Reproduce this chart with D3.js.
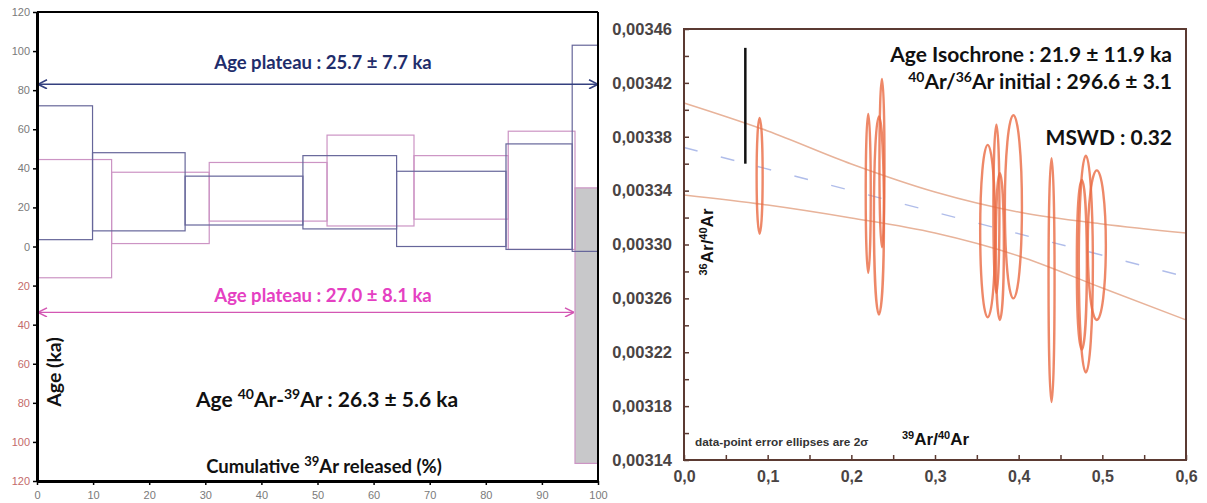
<!DOCTYPE html>
<html>
<head>
<meta charset="utf-8">
<script src="https://cdn.jsdelivr.net/npm/d3@7"></script>
<style>
  html, body { margin: 0; padding: 0; background: #fff; }
  svg { display: block; }
</style>
</head>
<body>
<svg id="chart" width="1207" height="503"></svg>
<script>
// ---------------- LEFT PANEL DATA (age spectrum) ----------------
const stepEdgesDark = [0, 9.9, 26.4, 47.4, 64.1, 83.6, 95.4, 100];
const darkLow  = [3.5, 8, 11, 9, 0, -1.5, -2.5];
const darkHigh = [72, 48, 36, 46.5, 38.5, 52.5, 103];

const stepEdgesPink = [0, 13.3, 30.7, 51.7, 67.2, 84.0, 95.9, 100];
const pinkLow  = [-16, 1.5, 13, 10.5, 14, -1.5, -111];
const pinkHigh = [44.5, 38, 43, 57, 46.5, 59, 30];
const pinkFilled = [false, false, false, false, false, false, true];

const plateauDark = { from: 0, to: 100, level: 83 };
const plateauPink = { from: 0, to: 95.9, level: -33.7 };

const ageTicks = [-120, -100, -80, -60, -40, -20, 0, 20, 40, 60, 80, 100, 120];
const pctTicks = [0, 10, 20, 30, 40, 50, 60, 70, 80, 90, 100];

// ---------------- RIGHT PANEL DATA (isochron) ----------------
const isoX    = [0.0904, 0.2202, 0.2366, 0.2330, 0.3630, 0.3734, 0.3775, 0.3937, 0.4393, 0.4755, 0.4803, 0.4934];
const isoY    = [0.003351, 0.003338, 0.0033605, 0.0033215, 0.003310, 0.0033265, 0.0032985, 0.003328, 0.0032735, 0.003285, 0.0032855, 0.0032995];
const isoErrX = [0.0036, 0.0030, 0.0030, 0.0060, 0.0090, 0.0036, 0.0048, 0.0102, 0.0036, 0.0060, 0.0084, 0.0108];
const isoErrY = [0.000043, 0.000059, 0.0000625, 0.0000735, 0.000064, 0.0000625, 0.0000545, 0.000068, 0.0000905, 0.000063, 0.0000805, 0.0000555];

const blackBarX = 0.0733;
const blackBarY = [0.00336, 0.003446];

const envX     = [0, 0.1, 0.2, 0.3, 0.4, 0.5, 0.6];
const envUpper = [0.0034051, 0.0033843, 0.0033598, 0.0033390, 0.0033241, 0.0033152, 0.0033085];
const envLower = [0.0033368, 0.0033293, 0.0033197, 0.0033085, 0.0032915, 0.0032677, 0.0032440];
const fitX = [0, 0.6];
const fitY = [0.003372, 0.003276];

const isoYTicks = [0.00314, 0.00318, 0.00322, 0.00326, 0.00330, 0.00334, 0.00338, 0.00342, 0.00346];
const isoYMinor = [0.00316, 0.00320, 0.00324, 0.00328, 0.00332, 0.00336, 0.00340, 0.00344];
const isoXTicks = [0, 0.1, 0.2, 0.3, 0.4, 0.5, 0.6];
const isoXMinor = [0.05, 0.15, 0.25, 0.35, 0.45, 0.55];

// ================================================================
const svg = d3.select("#chart");
const CAL = "Lato, 'Open Sans', sans-serif";
const ARIAL = "'Liberation Sans', Arial, sans-serif";

// ---------------- LEFT PANEL ----------------
const xL = d3.scaleLinear().domain([0, 100]).range([37, 598]);
const yL = d3.scaleLinear().domain([-120, 120]).range([481, 12]);
const L = svg.append("g");

const darkColor = "#66669a";
const pinkColor = "#cc94c4";

function steps(edges, low, high) {
  return low.map((lo, i) => ({ x0: edges[i], x1: edges[i + 1], lo, hi: high[i], i }));
}
const pinkSteps = steps(stepEdgesPink, pinkLow, pinkHigh);
const darkSteps = steps(stepEdgesDark, darkLow, darkHigh);

L.selectAll("rect.pf").data(pinkSteps.filter(d => pinkFilled[d.i])).join("rect")
  .attr("x", d => xL(d.x0)).attr("width", d => xL(d.x1) - xL(d.x0))
  .attr("y", d => yL(d.hi)).attr("height", d => yL(d.lo) - yL(d.hi))
  .attr("fill", "#c8c8ca").attr("stroke", pinkColor).attr("stroke-width", 1.2);

L.selectAll("rect.p").data(pinkSteps.filter(d => !pinkFilled[d.i])).join("rect")
  .attr("x", d => xL(d.x0)).attr("width", d => xL(d.x1) - xL(d.x0))
  .attr("y", d => yL(d.hi)).attr("height", d => yL(d.lo) - yL(d.hi))
  .attr("fill", "none").attr("stroke", pinkColor).attr("stroke-width", 1.2);

L.selectAll("rect.d").data(darkSteps).join("rect")
  .attr("x", d => xL(d.x0)).attr("width", d => xL(d.x1) - xL(d.x0))
  .attr("y", d => yL(d.hi)).attr("height", d => yL(d.lo) - yL(d.hi))
  .attr("fill", "none").attr("stroke", darkColor).attr("stroke-width", 1.2);

const defs = svg.append("defs");
function marker(id, color) {
  defs.append("marker").attr("id", id)
    .attr("viewBox", "0 0 10 10").attr("refX", 10).attr("refY", 5)
    .attr("markerUnits", "userSpaceOnUse").attr("markerWidth", 10).attr("markerHeight", 10)
    .attr("orient", "auto-start-reverse")
    .append("path").attr("d", "M1,0.5 L10,5 L1,9.5").attr("fill", "none")
    .attr("stroke", color).attr("stroke-width", 1.6);
}
marker("arrDark", "#34407f");
marker("arrPink", "#d357b3");

L.append("line")
  .attr("x1", xL(plateauDark.from) + 1).attr("x2", xL(plateauDark.to))
  .attr("y1", yL(plateauDark.level)).attr("y2", yL(plateauDark.level))
  .attr("stroke", "#34407f").attr("stroke-width", 1.6)
  .attr("marker-start", "url(#arrDark)").attr("marker-end", "url(#arrDark)");
L.append("line")
  .attr("x1", xL(plateauPink.from) + 1).attr("x2", xL(plateauPink.to) - 1)
  .attr("y1", yL(plateauPink.level)).attr("y2", yL(plateauPink.level))
  .attr("stroke", "#d357b3").attr("stroke-width", 1.4)
  .attr("marker-start", "url(#arrPink)").attr("marker-end", "url(#arrPink)");

L.append("line").attr("x1", xL(0)).attr("x2", xL(100)).attr("y1", yL(120)).attr("y2", yL(120))
  .attr("stroke", "#000").attr("stroke-width", 2);
L.append("line").attr("x1", xL(100)).attr("x2", xL(100)).attr("y1", yL(120)).attr("y2", yL(-120))
  .attr("stroke", "#000").attr("stroke-width", 2);

const yAxL = L.append("g").attr("transform", `translate(${xL(0)},0)`)
  .call(d3.axisLeft(yL).tickValues(ageTicks).tickFormat(d => Math.abs(d)).tickSize(4).tickSizeOuter(0).tickPadding(3));
yAxL.select(".domain").attr("stroke", "#000").attr("stroke-width", 3);
yAxL.selectAll(".tick line").attr("stroke", "#000").attr("stroke-width", 1.5);
yAxL.selectAll(".tick text").attr("font-family", ARIAL).attr("font-size", 11)
  .attr("fill", d => d < 0 ? "#c46a6a" : "#7a7a7a");

const xAxL = L.append("g").attr("transform", `translate(0,${yL(-120)})`)
  .call(d3.axisBottom(xL).tickValues(pctTicks).tickSize(4).tickSizeOuter(0).tickPadding(6));
xAxL.select(".domain").attr("stroke", "#000").attr("stroke-width", 3);
xAxL.selectAll(".tick line").attr("stroke", "#000").attr("stroke-width", 1.5);
xAxL.selectAll(".tick text").attr("font-family", ARIAL).attr("font-size", 11).attr("fill", "#7a7a7a");

L.append("text").attr("x", 323).attr("y", 69).attr("text-anchor", "middle")
  .attr("font-family", CAL).attr("font-weight", 700).attr("font-size", 18.5).attr("fill", "#1f2d6b")
  .text("Age plateau : 25.7 ± 7.7 ka");
L.append("text").attr("x", 323).attr("y", 302).attr("text-anchor", "middle")
  .attr("font-family", CAL).attr("font-weight", 700).attr("font-size", 18.5).attr("fill", "#e540c2")
  .text("Age plateau : 27.0 ± 8.1 ka");

const t3 = L.append("text").attr("x", 327).attr("y", 407).attr("text-anchor", "middle")
  .attr("font-family", CAL).attr("font-weight", 700).attr("font-size", 21).attr("fill", "#111");
t3.append("tspan").text("Age ");
t3.append("tspan").attr("font-size", 14).attr("dy", -8).text("40");
t3.append("tspan").attr("dy", 8).text("Ar-");
t3.append("tspan").attr("font-size", 14).attr("dy", -8).text("39");
t3.append("tspan").attr("dy", 8).text("Ar : 26.3 ± 5.6 ka");

const t4 = L.append("text").attr("x", 324).attr("y", 473).attr("text-anchor", "middle")
  .attr("font-family", CAL).attr("font-weight", 700).attr("font-size", 18.5).attr("fill", "#111");
t4.append("tspan").text("Cumulative ");
t4.append("tspan").attr("font-size", 13).attr("dy", -7).text("39");
t4.append("tspan").attr("dy", 7).text("Ar released (%)");

L.append("text").attr("transform", "translate(61,372) rotate(-90)").attr("text-anchor", "middle")
  .attr("font-family", CAL).attr("font-weight", 700).attr("font-size", 19.5).attr("fill", "#111")
  .text("Age (ka)");

// ---------------- RIGHT PANEL ----------------
const xR = d3.scaleLinear().domain([0, 0.6]).range([684, 1186]);
const yR = d3.scaleLinear().domain([0.00314, 0.00346]).range([460, 29]);
const R = svg.append("g");

const frameColor = "#5b3a32";
const lineGen = d3.line().x(d => xR(d[0])).y(d => yR(d[1]));

R.append("path").datum(envX.map((x, i) => [x, envUpper[i]]))
  .attr("d", lineGen.curve(d3.curveMonotoneX)).attr("fill", "none")
  .attr("stroke", "#e8b39a").attr("stroke-width", 1.5);
R.append("path").datum(envX.map((x, i) => [x, envLower[i]]))
  .attr("d", lineGen.curve(d3.curveMonotoneX)).attr("fill", "none")
  .attr("stroke", "#e8b39a").attr("stroke-width", 1.5);
R.append("path").datum(fitX.map((x, i) => [x, fitY[i]]))
  .attr("d", d3.line().x(d => xR(d[0])).y(d => yR(d[1]))).attr("fill", "none")
  .attr("stroke", "#b0bdea").attr("stroke-width", 1.4).attr("stroke-dasharray", "14,24");

R.selectAll("ellipse").data(isoX.map((x, i) => ({ x, y: isoY[i], ex: isoErrX[i], ey: isoErrY[i] }))).join("ellipse")
  .attr("cx", d => xR(d.x)).attr("cy", d => yR(d.y))
  .attr("rx", d => xR(d.x + d.ex) - xR(d.x)).attr("ry", d => yR(d.y - d.ey) - yR(d.y))
  .attr("fill", "none").attr("stroke", "#ea6a42").attr("stroke-opacity", 0.8).attr("stroke-width", 2.4);

R.append("line").attr("x1", xR(blackBarX)).attr("x2", xR(blackBarX))
  .attr("y1", yR(blackBarY[0])).attr("y2", yR(blackBarY[1]))
  .attr("stroke", "#111").attr("stroke-width", 2.5);

R.append("rect").attr("x", xR(0)).attr("y", yR(0.00346))
  .attr("width", xR(0.6) - xR(0)).attr("height", yR(0.00314) - yR(0.00346))
  .attr("fill", "none").attr("stroke", frameColor).attr("stroke-width", 2);

const fmtY = d => d3.format(".5f")(d).replace(".", ",");
const fmtX = d => d3.format(".1f")(d).replace(".", ",");

const yAxR = R.append("g").attr("transform", `translate(${xR(0)},0)`)
  .call(d3.axisLeft(yR).tickValues(isoYTicks).tickFormat(fmtY).tickSize(-5).tickSizeOuter(0).tickPadding(12));
yAxR.select(".domain").remove();
yAxR.selectAll(".tick line").attr("stroke", frameColor).attr("stroke-width", 1.5);
yAxR.selectAll(".tick text").attr("font-family", ARIAL).attr("font-weight", 700).attr("font-size", 16.5).attr("fill", "#4a4444");

const yAxRm = R.append("g").attr("transform", `translate(${xR(0)},0)`)
  .call(d3.axisLeft(yR).tickValues(isoYMinor).tickFormat("").tickSize(-5).tickSizeOuter(0));
yAxRm.select(".domain").remove();
yAxRm.selectAll(".tick line").attr("stroke", frameColor).attr("stroke-width", 1.5);

const xAxR = R.append("g").attr("transform", `translate(0,${yR(0.00314)})`)
  .call(d3.axisBottom(xR).tickValues(isoXTicks).tickFormat(fmtX).tickSize(-5).tickSizeOuter(0).tickPadding(11));
xAxR.select(".domain").remove();
xAxR.selectAll(".tick line").attr("stroke", frameColor).attr("stroke-width", 1.5);
xAxR.selectAll(".tick text").attr("font-family", ARIAL).attr("font-weight", 700).attr("font-size", 16).attr("fill", "#4a4444");

const xAxRm = R.append("g").attr("transform", `translate(0,${yR(0.00314)})`)
  .call(d3.axisBottom(xR).tickValues(isoXMinor).tickFormat("").tickSize(-5).tickSizeOuter(0));
xAxRm.select(".domain").remove();
xAxRm.selectAll(".tick line").attr("stroke", frameColor).attr("stroke-width", 1.5);

R.append("text").attr("x", 1172).attr("y", 62).attr("text-anchor", "end")
  .attr("font-family", CAL).attr("font-weight", 700).attr("font-size", 21).attr("fill", "#111")
  .text("Age Isochrone : 21.9 ± 11.9 ka");
const r2 = R.append("text").attr("x", 1172).attr("y", 89).attr("text-anchor", "end")
  .attr("font-family", CAL).attr("font-weight", 700).attr("font-size", 21).attr("fill", "#111");
r2.append("tspan").attr("font-size", 14).attr("dy", -7).text("40");
r2.append("tspan").attr("dy", 7).text("Ar/");
r2.append("tspan").attr("font-size", 14).attr("dy", -7).text("36");
r2.append("tspan").attr("dy", 7).text("Ar initial : 296.6 ± 3.1");
R.append("text").attr("x", 1172).attr("y", 145).attr("text-anchor", "end")
  .attr("font-family", CAL).attr("font-weight", 700).attr("font-size", 21).attr("fill", "#111")
  .text("MSWD : 0.32");

R.append("text").attr("x", 695).attr("y", 446)
  .attr("font-family", ARIAL).attr("font-weight", 700).attr("font-size", 11.8).attr("fill", "#333")
  .text("data-point error ellipses are 2σ");

const xl = R.append("text").attr("x", 902).attr("y", 445)
  .attr("font-family", ARIAL).attr("font-weight", 700).attr("font-size", 17).attr("fill", "#111");
xl.append("tspan").attr("font-size", 11).attr("dy", -6).text("39");
xl.append("tspan").attr("dy", 6).text("Ar/");
xl.append("tspan").attr("font-size", 11).attr("dy", -6).text("40");
xl.append("tspan").attr("dy", 6).text("Ar");

const yl = R.append("text").attr("transform", "translate(713,242) rotate(-90)").attr("text-anchor", "middle")
  .attr("font-family", ARIAL).attr("font-weight", 700).attr("font-size", 17).attr("fill", "#111");
yl.append("tspan").attr("font-size", 11).attr("dy", -6).text("36");
yl.append("tspan").attr("dy", 6).text("Ar/");
yl.append("tspan").attr("font-size", 11).attr("dy", -6).text("40");
yl.append("tspan").attr("dy", 6).text("Ar");
</script>
</body>
</html>
